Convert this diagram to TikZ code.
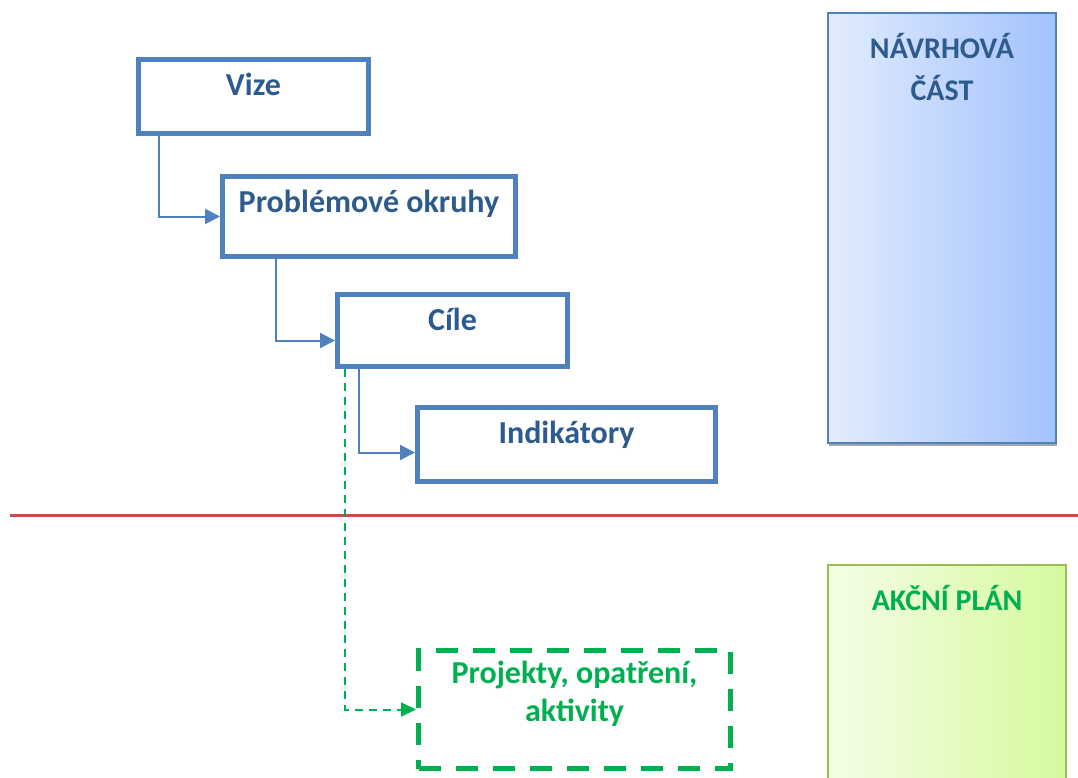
\documentclass[tikz,border=0pt]{standalone}
\usepackage{fontspec}
\setmainfont{Carlito}
\usetikzlibrary{arrows.meta, shadows, positioning}
\definecolor{boxBlue}{HTML}{4F81BD}
\definecolor{textBlue}{HTML}{2E5B8E}
\definecolor{planGreen}{HTML}{00B050}
\definecolor{leafGreen}{HTML}{9BBB59}
\definecolor{lineRed}{HTML}{C0504D}
\definecolor{skyLeft}{HTML}{E2ECFD}
\definecolor{skyRight}{HTML}{A3C2FC}
\definecolor{leafLeft}{HTML}{F4FEE6}
\definecolor{leafRight}{HTML}{D5F99E}
\tikzset{
    stageBox/.style={rectangle, draw=boxBlue, line width=5pt, inner sep=0pt, anchor=north west, text height=36pt, text=textBlue, font=\fontsize{32}{36}\selectfont\bfseries},
    planBox/.style={rectangle, draw=planGreen, line width=5pt, dash pattern=on 22pt off 15pt, inner sep=0pt, anchor=north west},
    sideBox/.style={rectangle, line width=2pt, inner sep=0pt, anchor=north west},
    headText/.style={anchor=north, inner sep=0pt, align=center, font=\fontsize{30}{42}\selectfont\bfseries},
    flowEdge/.style={-{Triangle[length=15pt, width=15pt]}, draw=boxBlue, line width=2pt},
    planEdge/.style={-{Triangle[length=15pt, width=14pt]}, draw=planGreen, line width=2pt, dash pattern=on 8pt off 6pt},
    divider/.style={draw=lineRed, line width=3pt},
}

\begin{document}
\begin{tikzpicture}[x=1pt, y=-1pt]
    \useasboundingbox (0,0) rectangle (1078,778);

    % side panels
    \node[sideBox, draw=boxBlue, left color=skyLeft, right color=skyRight, minimum width=228pt, minimum height=430pt,
        drop shadow={shadow xshift=1pt, shadow yshift=-3pt, fill=gray, opacity=0.7},
        label={[headText, text=textBlue, yshift=-21pt]north:{NÁVRHOVÁ\\ČÁST}}] (design) at (827,12) {};
    \node[sideBox, draw=leafGreen, left color=leafLeft, right color=leafRight, minimum width=238pt, minimum height=226pt,
        label={[headText, text=planGreen, yshift=-21pt]north:{AKČNÍ PLÁN}}] (action) at (827,564) {};

    \coordinate (divL) at (10,515);
    \coordinate (divR) at (1078,515);
    \draw[divider] (divL) -- (divR);

    % stages
    \node[stageBox, minimum width=230pt, text depth=38pt] (vize) at (136,57) {Vize};
    \node[stageBox, minimum width=293pt, text depth=44pt] (probl) at (220,174) {Problémové okruhy};
    \node[stageBox, minimum width=230pt, text depth=36pt] (cile) at (335,292) {Cíle};
    \node[stageBox, minimum width=298pt, text depth=38pt] (indik) at (415,405) {Indikátory};
    \node[planBox, minimum width=312pt, minimum height=118pt,
        label={[headText, text=planGreen, yshift=-13pt, font=\fontsize{32}{38}\selectfont\bfseries]north:{Projekty, opatření,\\aktivity}}] (proj) at (416,648) {};

    \draw[flowEdge] ([xshift=23pt]vize.south west) |- (probl.west);
    \draw[flowEdge] ([xshift=56pt]probl.south west) |- ([yshift=-10pt]cile.west);
    \draw[flowEdge] ([xshift=24pt]cile.south west) |- ([yshift=-8pt]indik.west);
    \draw[planEdge] ([xshift=10pt]cile.south west) |- (proj.west);

\end{tikzpicture}
\end{document}
